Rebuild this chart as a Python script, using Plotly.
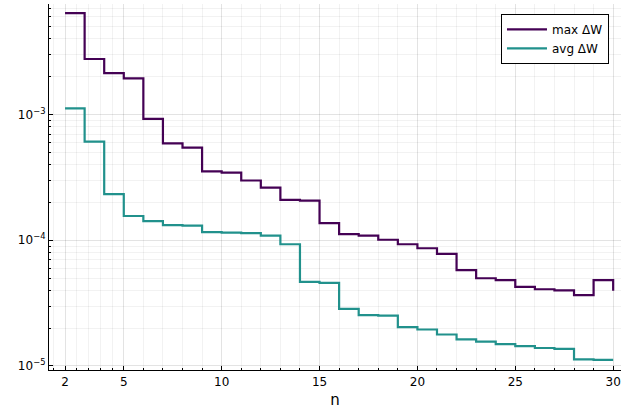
import plotly.graph_objects as go

n = list(range(2, 31))
max_dw = [6.41e-3, 2.77e-3, 2.14e-3, 1.94e-3, 9.24e-4, 5.91e-4, 5.47e-4, 3.53e-4,
          3.45e-4, 2.99e-4, 2.62e-4, 2.10e-4, 2.07e-4, 1.37e-4, 1.12e-4, 1.09e-4,
          1.01e-4, 9.3e-5, 8.64e-5, 7.79e-5, 5.78e-5, 4.99e-5, 4.82e-5, 4.26e-5,
          4.08e-5, 3.99e-5, 3.66e-5, 4.82e-5, 3.97e-5]
avg_dw = [1.12e-3, 6.1e-4, 2.33e-4, 1.56e-4, 1.42e-4, 1.32e-4, 1.31e-4, 1.16e-4,
          1.15e-4, 1.14e-4, 1.09e-4, 9.3e-5, 4.67e-5, 4.58e-5, 2.85e-5, 2.54e-5,
          2.52e-5, 2.04e-5, 1.95e-5, 1.78e-5, 1.63e-5, 1.56e-5, 1.49e-5, 1.44e-5,
          1.39e-5, 1.37e-5, 1.13e-5, 1.12e-5, 1.12e-5]

x_ticks = [2, 5, 10, 15, 20, 25, 30]
x_minor = [1.4, 2.6, 3.2, 3.8, 4.4] + [v for v in range(6, 31) if v % 5 != 0]
y_ticks = [1e-5, 1e-4, 1e-3]
y_ticklabels = ["10<sup>−5</sup>", "10<sup>−4</sup>", "10<sup>−3</sup>"]
y_minor = [m * 10.0 ** e for e in (-6, -5, -4, -3) for m in range(2, 10)]

fig = go.Figure()
fig.add_trace(go.Scatter(x=n, y=max_dw, mode="lines", name="max ΔW",
                         line=dict(color="#440154", width=2.2, shape="hv")))
fig.add_trace(go.Scatter(x=n, y=avg_dw, mode="lines", name="avg ΔW",
                         line=dict(color="#21918c", width=2.2, shape="hv")))

axis_common = dict(
    showline=True, linecolor="black", linewidth=1.2, mirror=False,
    ticks="inside", ticklen=4, tickcolor="black", tickwidth=1,
    showgrid=True, gridcolor="rgba(0,0,0,0.11)", gridwidth=1,
    zeroline=False, tickfont=dict(size=12, color="black"), automargin=False,
)

fig.update_layout(
    width=621, height=418,
    margin=dict(l=49, r=0, t=4, b=48),
    paper_bgcolor="white", plot_bgcolor="white",
    font=dict(family="DejaVu Sans", color="black"),
    xaxis=dict(range=[1.18, 30.4], tickmode="array", tickvals=x_ticks,
               title=dict(text="n", font=dict(size=15), standoff=6),
               minor=dict(tickmode="array", tickvals=x_minor, ticks="inside",
                          ticklen=2, tickcolor="black", showgrid=True,
                          gridcolor="rgba(0,0,0,0.05)"),
               **axis_common),
    yaxis=dict(type="log", range=[-5.032, -2.12], tickmode="array",
               tickvals=y_ticks, ticktext=y_ticklabels,
               minor=dict(tickmode="array", tickvals=y_minor, ticks="inside",
                          ticklen=2, tickcolor="black", showgrid=True,
                          gridcolor="rgba(0,0,0,0.05)"),
               **axis_common),
    legend=dict(x=0.979, y=0.973, xanchor="right", yanchor="top",
                bgcolor="white", bordercolor="black", borderwidth=1,
                font=dict(size=12), tracegroupgap=0, itemwidth=40),
    showlegend=True,
)

fig.write_html("out.html", config={"displayModeBar": False},
               post_script="document.body.style.margin='0';document.body.style.overflow='hidden';")
